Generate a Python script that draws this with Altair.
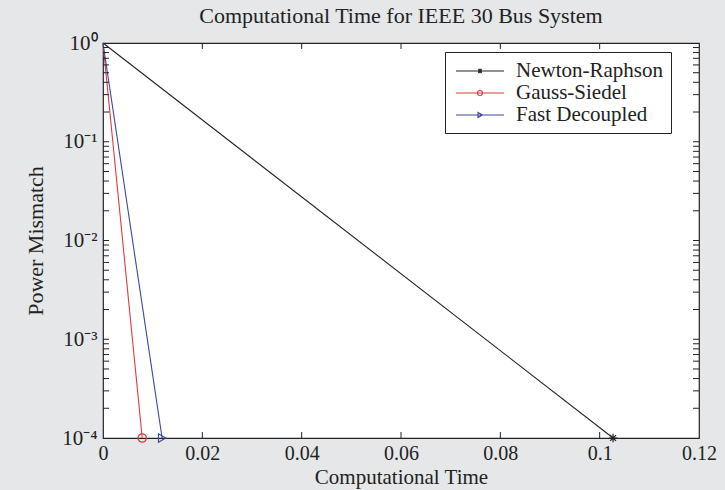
import altair as alt
import pandas as pd

# ---- data ----
series = ["Newton-Raphson", "Gauss-Siedel", "Fast Decoupled"]
colors = ["#222222", "#e03a3a", "#3a48a0"]
time_nr = [0.0, 0.1027]
mism_nr = [1.0, 1e-4]
time_gs = [0.0, 0.0079]
mism_gs = [1.0, 1e-4]
time_fd = [0.0, 0.0119]
mism_fd = [1.0, 1e-4]

x_ticks = [0, 0.02, 0.04, 0.06, 0.08, 0.1, 0.12]
y_major = [1e-4, 1e-3, 1e-2, 1e-1, 1e0]
y_minor = [m * d for d in [1e-4, 1e-3, 1e-2, 1e-1] for m in range(2, 10)]

W, H = 596, 395
FONT = "Liberation Serif"
TICK = 6

rows = []
for s, t, m in [(series[0], time_nr, mism_nr), (series[1], time_gs, mism_gs), (series[2], time_fd, mism_fd)]:
    for i, (ti, mi) in enumerate(zip(t, m)):
        rows.append({"series": s, "time": ti, "mismatch": mi, "last": i == len(t) - 1})
df = pd.DataFrame(rows)

xscale = alt.Scale(domain=[0, 0.12], nice=False, zero=False)
yscale = alt.Scale(type="log", domain=[1e-4, 1], nice=False)
cscale = alt.Scale(domain=series, range=colors)

xaxis = alt.Axis(values=x_ticks, format="~g", ticks=False, domain=False, grid=False,
                 labelFont=FONT, labelFontSize=20, labelColor="#222", labelPadding=5,
                 title="Computational Time", titleFont=FONT, titleFontSize=21,
                 titleFontWeight="normal", titleColor="#222", titlePadding=3,
                 labelFlush=False)
yexpr = ("datum.value >= 0.99 ? '10⁰' : datum.value >= 0.099 ? '10⁻¹' : "
         "datum.value >= 0.0099 ? '10⁻²' : datum.value >= 0.00099 ? '10⁻³' : '10⁻⁴'")
yaxis = alt.Axis(values=y_major, labelExpr=yexpr, ticks=False, domain=False, grid=False,
                 labelFont=FONT, labelFontSize=21, labelColor="#222", labelPadding=6,
                 title="Power Mismatch", titleFont=FONT, titleFontSize=22,
                 titleFontWeight="normal", titleColor="#222", titlePadding=14)

base = alt.Chart(df)
star = "M-1,0L1,0M0,-1L0,1M-0.7,-0.7L0.7,0.7M-0.7,0.7L0.7,-0.7"
marker_shapes = [star, "circle", "triangle-right"]

# axes carried by an invisible layer
axis_layer = base.mark_point(opacity=0).encode(
    x=alt.X("time:Q", scale=xscale, axis=xaxis),
    y=alt.Y("mismatch:Q", scale=yscale, axis=yaxis),
)

line_layers = []
marker_layers = []
for s, c, shp in zip(series, colors, marker_shapes):
    line_layers.append(
        base.transform_filter(alt.datum.series == s)
        .mark_line(strokeWidth=1.1, color=c)
        .encode(x="time:Q", y="mismatch:Q")
    )
    marker_layers.append(
        base.transform_filter((alt.datum.series == s) & alt.datum.last)
        .mark_point(shape=shp, filled=False, size=70, strokeWidth=1.2, color=c, opacity=1)
        .encode(x="time:Q", y="mismatch:Q")
    )

# legend symbols: a line with the marker in the middle
r = 0.25
d = round(r * 0.7, 3)
leg_star = f"M-2.4,0L2.4,0M0,-{r}L0,{r}M-{d},-{d}L{d},{d}M-{d},{d}L{d},-{d}"
leg_circle = f"M-2.4,0L2.4,0M{r},0A{r},{r} 0 1,1 -{r},0A{r},{r} 0 1,1 {r},0"
leg_tri = f"M-2.4,0L2.4,0M-{r*0.8},-{r}L{r},0L-{r*0.8},{r}Z"
legend_layer = base.transform_filter(alt.datum.last).mark_point(filled=False, opacity=0).encode(
    x="time:Q", y="mismatch:Q",
    color=alt.Color("series:N", scale=cscale, legend=alt.Legend(
        orient="none", legendX=342, legendY=9, title=None,
        strokeColor="#222", fillColor="white", padding=8,
        labelFont=FONT, labelFontSize=21, labelColor="#222", labelOffset=25,
        symbolSize=400, symbolStrokeWidth=1.1, symbolOpacity=1, symbolOffset=16,
        rowPadding=1)),
    shape=alt.Shape("series:N", scale=alt.Scale(domain=series, range=[leg_star, leg_circle, leg_tri])),
)

# inward ticks (MATLAB style box)
xt = pd.DataFrame({"v": x_ticks[1:-1]})
yt = pd.DataFrame({"v": y_major[1:-1] + y_minor})
tick_style = dict(color="#222", strokeWidth=1)
xb = alt.Chart(xt).mark_rule(**tick_style).encode(x=alt.X("v:Q", scale=xscale), y=alt.value(H), y2=alt.value(H - TICK))
xtp = alt.Chart(xt).mark_rule(**tick_style).encode(x=alt.X("v:Q", scale=xscale), y=alt.value(0), y2=alt.value(TICK))
yl = alt.Chart(yt).mark_rule(**tick_style).encode(y=alt.Y("v:Q", scale=yscale), x=alt.value(0), x2=alt.value(TICK))
yr = alt.Chart(yt).mark_rule(**tick_style).encode(y=alt.Y("v:Q", scale=yscale), x=alt.value(W), x2=alt.value(W - TICK))

chart = alt.layer(axis_layer, *line_layers, *marker_layers, legend_layer, xb, xtp, yl, yr).properties(
    width=W, height=H,
    title=alt.TitleParams("Computational Time for IEEE 30 Bus System", font=FONT, fontSize=22,
                          fontWeight="normal", color="#222", offset=4, anchor="middle"),
    autosize=alt.AutoSizeParams(type="none"),
    padding={"left": 103, "top": 43, "right": 26, "bottom": 52},
    background="#e5e7e8",
).configure_view(stroke="#222", strokeWidth=1.2, fill="white")

chart.save("out.html", embed_options={"renderer": "svg", "actions": False})
